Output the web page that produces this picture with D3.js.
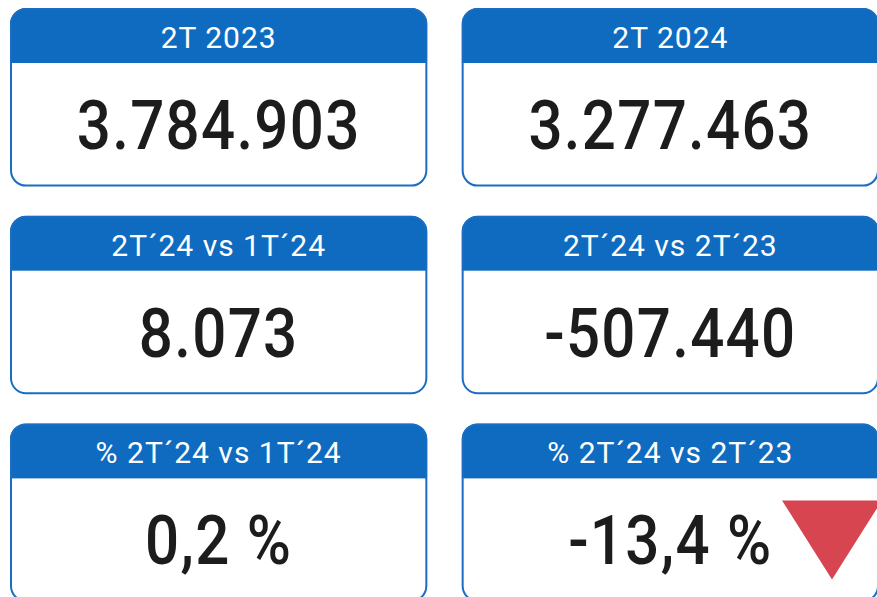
<!DOCTYPE html>
<html>
<head>
<meta charset="utf-8">
<script src="https://cdn.jsdelivr.net/npm/d3@7"></script>
<style>
  body { margin: 0; background: #fff; }
  svg { display: block; }
</style>
</head>
<body>
<div id="chart"></div>
<script>
var width = 877;
var height = 597;

// card data
var titles = ["2T 2023", "2T 2024", "2T\u00b424 vs 1T\u00b424", "2T\u00b424 vs 2T\u00b423", "% 2T\u00b424 vs 1T\u00b424", "% 2T\u00b424 vs 2T\u00b423"];
var values = [3784903, 3277463, 8073, -507440, 0.2, -13.4];
var kinds = ["num", "num", "num", "num", "pct", "pct"];
var arrows = [false, false, false, false, false, true];

var es = d3.formatLocale({decimal: ",", thousands: ".", grouping: [3], currency: ["", " \u20ac"], minus: "-"});
var fmtNum = es.format(",d");
var fmtPct = function(v) { return es.format(".1f")(v) + " %"; };

var cards = titles.map(function(t, i) {
  return {title: t, value: values[i], kind: kinds[i], arrow: arrows[i], col: i % 2, row: Math.floor(i / 2)};
});

var svg = d3.select("#chart").append("svg")
  .attr("width", width)
  .attr("height", height);

var x = d3.scaleBand().domain([0, 1]).range([10, 879]).paddingInner(0.076);
var y = d3.scaleBand().domain([0, 1, 2]).range([8, 602]).paddingInner(0.14);

var blue = "#0f6bbf";
var r = 16;
var headH = 55;

var g = svg.selectAll(".card")
  .data(cards)
  .enter().append("g")
  .attr("class", "card")
  .attr("transform", function(d) { return "translate(" + x(d.col) + "," + y(d.row) + ")"; });

var w = x.bandwidth();
var h = y.bandwidth();

g.each(function(d, i) {
  var c = d3.select(this);
  var id = "clip" + i;
  c.append("clipPath").attr("id", id)
    .append("rect").attr("width", w).attr("height", h).attr("rx", r);
  c.append("rect")
    .attr("width", w).attr("height", h).attr("rx", r)
    .attr("fill", "#fff");
  c.append("rect")
    .attr("width", w).attr("height", headH)
    .attr("fill", blue)
    .attr("clip-path", "url(#" + id + ")");
  c.append("rect")
    .attr("x", 1).attr("y", 1)
    .attr("width", w - 2).attr("height", h - 2).attr("rx", r - 1)
    .attr("fill", "none")
    .attr("stroke", "#1a6dc2")
    .attr("stroke-width", 2);
});

g.append("text")
  .attr("x", w / 2)
  .attr("y", 40)
  .attr("text-anchor", "middle")
  .attr("fill", "#fff")
  .style("font-family", "Roboto, 'DejaVu Sans', sans-serif")
  .style("font-size", "30px")
  .style("letter-spacing", "1px")
  .text(function(d) { return d.title; });

g.filter(function(d) { return d.arrow; })
  .append("path")
  .attr("d", "M" + (w - 97) + ",77 L" + (w + 3) + ",77 L" + (w - 47) + ",156 Z")
  .attr("fill", "#d64550");

g.append("text")
  .attr("transform", "translate(" + (w / 2) + ",141) scale(0.87,1)")
  .attr("text-anchor", "middle")
  .attr("fill", "#1c1c1c")
  .style("font-family", "Roboto, 'DejaVu Sans', sans-serif")
  .style("font-size", "69px")
  .style("font-weight", 500)
  .style("letter-spacing", "1.5px")
  .text(function(d) { return d.kind === "pct" ? fmtPct(d.value) : fmtNum(d.value); });
</script>
</body>
</html>
